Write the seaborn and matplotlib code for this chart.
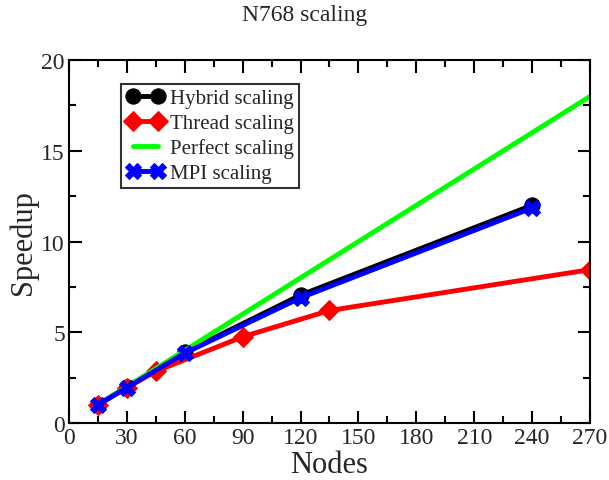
import matplotlib
matplotlib.use("Agg")
import matplotlib.pyplot as plt
import seaborn as sns
import pandas as pd
from matplotlib.ticker import MultipleLocator

hybrid_x = [15, 30, 60, 120, 240]
hybrid_y = [1.0, 2.0, 3.9, 7.05, 12.0]
thread_x = [15, 30, 45, 90, 135, 270]
thread_y = [1.0, 1.95, 2.85, 4.75, 6.2, 8.45]
perfect_x = [15, 270]
perfect_y = [1.0, 18.0]
mpi_x = [15, 30, 60, 120, 240]
mpi_y = [1.0, 1.95, 3.85, 6.9, 11.85]

sns.set_style("ticks")
plt.rcParams['font.family'] = ['Liberation Serif', 'DejaVu Serif']

fig = plt.figure(figsize=(6.09, 4.81), dpi=100)
ax = fig.add_axes([0.1133, 0.1185, 0.8555, 0.7545])

series = [
    ("Hybrid scaling", hybrid_x, hybrid_y, "black", "o", 11),
    ("Thread scaling", thread_x, thread_y, "red", "D", 10),
    ("Perfect scaling", perfect_x, perfect_y, "#00ff00", None, 0),
    ("MPI scaling", mpi_x, mpi_y, "blue", "X", 12),
]
for name, xs, ys, color, marker, ms in series:
    df = pd.DataFrame({"x": xs, "y": ys})
    kw = dict(marker=marker, markersize=ms, markeredgecolor=color) if marker else {}
    sns.lineplot(data=df, x="x", y="y", ax=ax, color=color, linewidth=3.5,
                 label=name, sort=False, **kw)

ax.set_xlim(0, 270)
ax.set_ylim(0, 20)
ax.xaxis.set_major_locator(MultipleLocator(30))
ax.xaxis.set_minor_locator(MultipleLocator(15))
ax.yaxis.set_major_locator(MultipleLocator(5))
ax.yaxis.set_minor_locator(MultipleLocator(2.5))
ax.tick_params(which="both", direction="in", top=True, right=True, width=1.5, color="black")
ax.tick_params(which="major", length=9, labelsize=17, pad=3)
ax.tick_params(which="minor", length=5)
for s in ax.spines.values():
    s.set_linewidth(1.5)
    s.set_color("black")

ax.set_xlabel("Nodes", fontsize=22, labelpad=1)
ax.set_ylabel("Speedup", fontsize=22, labelpad=2)
fig.suptitle("N768 scaling", fontsize=17, y=0.99)

leg = ax.legend(loc="upper left", bbox_to_anchor=(0.1, 0.935), fontsize=15,
                frameon=True, fancybox=False, edgecolor="black", numpoints=2,
                handlelength=1.8, handletextpad=0.3, borderpad=0.25, labelspacing=0.25,
                borderaxespad=0)
leg.get_frame().set_linewidth(1.5)

fig.savefig("out.png", dpi=100)
